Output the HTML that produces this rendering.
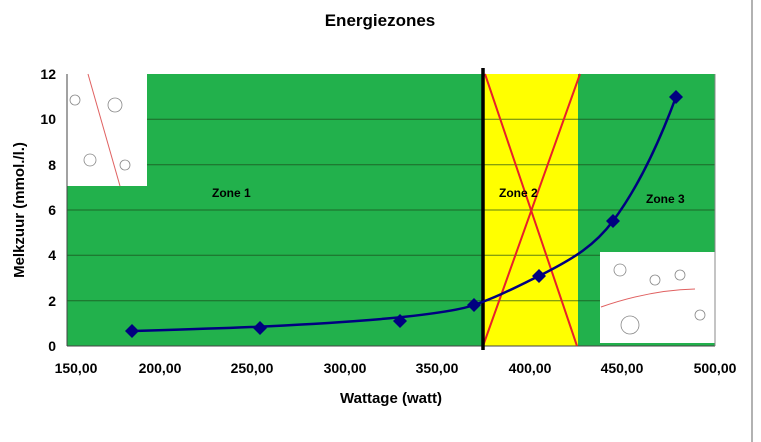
<!DOCTYPE html><html><head><style>body{margin:0;background:#fff}svg{display:block}</style></head><body>
<svg width="761" height="442" xmlns="http://www.w3.org/2000/svg" font-family="Liberation Sans, sans-serif" font-weight="bold">
<line x1="752" y1="0" x2="752" y2="442" stroke="#999" stroke-width="1.5"/>
<text x="380" y="26" font-size="17" text-anchor="middle">Energiezones</text>
<rect x="67" y="74" width="648" height="272" fill="#22b14c"/>
<rect x="482" y="74" width="96" height="272" fill="#ffff00"/>
<g stroke="#1a4a1a" stroke-width="1" opacity="0.7">
<line x1="67" y1="119.3" x2="715" y2="119.3"/><line x1="67" y1="164.7" x2="715" y2="164.7"/><line x1="67" y1="210" x2="715" y2="210"/><line x1="67" y1="255.3" x2="715" y2="255.3"/><line x1="67" y1="300.7" x2="715" y2="300.7"/></g>
<rect x="67" y="74" width="80" height="112" fill="#fff"/>
<line x1="88" y1="74" x2="120" y2="186" stroke="#e06060" stroke-width="1"/>
<rect x="600" y="252" width="115" height="91" fill="#fff"/>
<path d="M601 307 Q650 290 695 289" stroke="#e06060" fill="none"/>
<g fill="none" stroke="#888" stroke-width="0.8"><circle cx="75" cy="100" r="5"/><circle cx="115" cy="105" r="7"/><circle cx="90" cy="160" r="6"/><circle cx="125" cy="165" r="5"/><circle cx="620" cy="270" r="6"/><circle cx="655" cy="280" r="5"/><circle cx="630" cy="325" r="9"/><circle cx="680" cy="275" r="5"/><circle cx="700" cy="315" r="5"/></g>
<line x1="67" y1="74" x2="67" y2="346" stroke="#444"/>
<line x1="67" y1="346" x2="715" y2="346" stroke="#444"/>
<line x1="715" y1="74" x2="715" y2="346" stroke="#888"/>
<line x1="485" y1="74" x2="577" y2="346" stroke="#e8202a" stroke-width="2"/>
<line x1="483" y1="346" x2="580" y2="74" stroke="#e8202a" stroke-width="2"/>
<line x1="483" y1="68" x2="483" y2="350" stroke="#000" stroke-width="3.5"/>
<path d="M132 331 C200 329 280 327 370 320 C430 315 460 310 474 305 C500 296 520 285 539 276 C575 258 595 245 613 221 C640 185 660 140 676 97" stroke="#000080" stroke-width="2.5" fill="none"/>
<g fill="#000080">
<path d="M132 324l7 7-7 7-7-7z"/><path d="M260 321l7 7-7 7-7-7z"/><path d="M400 314l7 7-7 7-7-7z"/><path d="M474 298l7 7-7 7-7-7z"/><path d="M539 269l7 7-7 7-7-7z"/><path d="M613 214l7 7-7 7-7-7z"/><path d="M676 90l7 7-7 7-7-7z"/></g>
<g font-size="12"><text x="212" y="197">Zone 1</text><text x="499" y="197">Zone 2</text><text x="646" y="203">Zone 3</text></g>
<g font-size="14" text-anchor="end">
<text x="56" y="79">12</text><text x="56" y="124">10</text><text x="56" y="170">8</text><text x="56" y="215">6</text><text x="56" y="260">4</text><text x="56" y="306">2</text><text x="56" y="351">0</text></g>
<g font-size="14" text-anchor="middle">
<text x="76" y="373">150,00</text><text x="160" y="373">200,00</text><text x="252" y="373">250,00</text><text x="345" y="373">300,00</text><text x="437" y="373">350,00</text><text x="530" y="373">400,00</text><text x="622" y="373">450,00</text><text x="715" y="373">500,00</text></g>
<text x="391" y="403" font-size="15" text-anchor="middle">Wattage (watt)</text>
<text transform="translate(24,210) rotate(-90)" font-size="15" text-anchor="middle">Melkzuur (mmol./l.)</text>
</svg></body></html>
